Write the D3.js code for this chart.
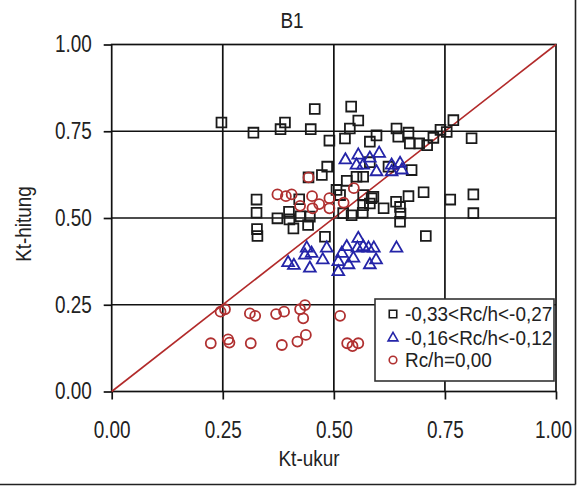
<!DOCTYPE html>
<html><head><meta charset="utf-8">
<script src="https://cdn.jsdelivr.net/npm/d3@7"></script>
<style>
html,body{margin:0;padding:0;background:#fff;}
text{font-family:"Liberation Sans Narrow","Arial Narrow","Liberation Sans",Arial,sans-serif;fill:#222;}
</style></head>
<body><svg id="c" width="581" height="486"></svg>
<script>
const title = "B1";
const xLabel = "Kt-ukur";
const yLabel = "Kt-hitung";
const tickValues = [0, 0.25, 0.5, 0.75, 1.0];
const tickLabels = ["0.00", "0.25", "0.50", "0.75", "1.00"];
const seriesNames = ["-0,33<Rc/h<-0,27", "-0,16<Rc/h<-0,12", "Rc/h=0,00"];

// series 1: squares (-0,33<Rc/h<-0,27)
const squares = [
 [0.247,0.775],[0.319,0.746],[0.380,0.756],[0.390,0.775],[0.448,0.756],[0.457,0.814],
 [0.490,0.723],[0.525,0.729],[0.536,0.758],[0.539,0.821],[0.555,0.781],[0.581,0.720],
 [0.596,0.738],[0.641,0.758],[0.645,0.734],[0.668,0.746],[0.671,0.715],[0.692,0.715],
 [0.710,0.710],[0.724,0.731],[0.740,0.754],[0.754,0.748],[0.769,0.782],[0.810,0.730],
 [0.485,0.648],[0.473,0.624],[0.443,0.617],[0.551,0.619],[0.566,0.619],[0.581,0.661],
 [0.623,0.648],[0.675,0.638],
 [0.326,0.553],[0.326,0.515],[0.327,0.468],[0.328,0.448],[0.373,0.499],[0.399,0.518],
 [0.400,0.496],[0.409,0.470],[0.422,0.554],[0.425,0.505],[0.446,0.504],[0.442,0.480],
 [0.480,0.446],[0.506,0.581],[0.529,0.607],[0.514,0.566],[0.521,0.514],[0.540,0.508],
 [0.566,0.566],[0.565,0.515],[0.566,0.537],[0.585,0.557],[0.581,0.542],[0.589,0.561],
 [0.612,0.528],[0.640,0.547],[0.649,0.532],[0.650,0.513],[0.649,0.489],[0.668,0.563],
 [0.702,0.574],[0.707,0.448],[0.762,0.553],[0.814,0.568],[0.814,0.514]
];
// series 2: triangles (-0,16<Rc/h<-0,12)
const triangles = [
 [0.526,0.667],[0.555,0.681],[0.551,0.652],[0.566,0.652],[0.581,0.672],[0.602,0.686],
 [0.596,0.633],[0.630,0.652],[0.630,0.633],[0.649,0.657],[0.653,0.638],
 [0.397,0.371],[0.410,0.363],[0.439,0.413],[0.435,0.393],[0.450,0.398],[0.446,0.355],
 [0.475,0.379],[0.484,0.413],[0.510,0.374],[0.510,0.345],[0.518,0.398],[0.529,0.417],
 [0.533,0.365],[0.544,0.384],[0.555,0.441],[0.553,0.413],[0.566,0.417],[0.578,0.413],
 [0.590,0.413],[0.581,0.365],[0.595,0.379],[0.641,0.413]
];
// series 3: circles (Rc/h=0,00)
const circles = [
 [0.443,0.617],[0.373,0.568],[0.392,0.563],[0.405,0.568],[0.424,0.535],[0.451,0.563],
 [0.452,0.528],[0.467,0.540],[0.490,0.557],[0.490,0.528],[0.522,0.544],[0.545,0.586],
 [0.245,0.230],[0.255,0.237],[0.311,0.225],[0.323,0.218],[0.370,0.223],[0.388,0.230],
 [0.424,0.237],[0.435,0.249],[0.431,0.211],[0.514,0.218],
 [0.223,0.139],[0.262,0.150],[0.265,0.141],[0.313,0.139],[0.383,0.134],[0.418,0.144],
 [0.437,0.163],[0.530,0.139],[0.542,0.131],[0.555,0.139]
];
const diagonal = [[0,0],[1,1]];

const svg = d3.select("#c");
const x = d3.scaleLinear().domain([0,1]).range([111.7,556]);
const y = d3.scaleLinear().domain([0,1]).range([391.5,44.5]);
const FS = 23;

// figure frame (right and bottom edges)
svg.append("line").attr("x1",575.5).attr("x2",575.5).attr("y1",0).attr("y2",484.5).attr("stroke","#222").attr("stroke-width",1.6);
svg.append("line").attr("x1",0).attr("x2",575.5).attr("y1",484.5).attr("y2",484.5).attr("stroke","#222").attr("stroke-width",1.6);

// grid lines
const g = svg.append("g");
g.selectAll("line.gx").data(tickValues.slice(1,4)).join("line")
 .attr("x1",d=>x(d)).attr("x2",d=>x(d)).attr("y1",y(0)).attr("y2",y(1))
 .attr("stroke","#111").attr("stroke-width",1.7);
g.selectAll("line.gy").data(tickValues.slice(1,4)).join("line")
 .attr("y1",d=>y(d)).attr("y2",d=>y(d)).attr("x1",x(0)).attr("x2",x(1))
 .attr("stroke","#111").attr("stroke-width",1.7);

// axes
const xAxis = d3.axisBottom(x).tickValues(tickValues).tickFormat((d,i)=>tickLabels[i]).tickSize(8).tickPadding(22);
const yAxis = d3.axisLeft(y).tickValues(tickValues).tickFormat((d,i)=>tickLabels[i]).tickSize(8).tickPadding(12);
const gx = svg.append("g").attr("transform",`translate(0,${y(0)})`).call(xAxis);
const gy = svg.append("g").attr("transform",`translate(${x(0)},0)`).call(yAxis);
[gx,gy].forEach(a=>{
  a.select(".domain").remove();
  a.attr("font-family",null).attr("font-size",null);
  a.selectAll(".tick line").attr("stroke","#111").attr("stroke-width",1.7);
  a.selectAll(".tick text").attr("font-size",FS).attr("fill","#222");
});
// keep the last x label inside the figure frame
gx.selectAll(".tick text").filter(d=>d===1).attr("dx",-3);

// plot border
svg.append("rect").attr("x",x(0)).attr("y",y(1)).attr("width",x(1)-x(0)).attr("height",y(0)-y(1))
 .attr("fill","none").attr("stroke","#111").attr("stroke-width",1.7);

// diagonal
svg.append("path").datum(diagonal)
 .attr("d",d3.line().x(d=>x(d[0])).y(d=>y(d[1])))
 .attr("stroke","#b22a2a").attr("stroke-width",1.6).attr("fill","none");

// markers
const sq = d3.symbol().type(d3.symbolSquare).size(96);
const tr = d3.symbol().type(d3.symbolTriangle).size(60);
svg.append("g").selectAll("path").data(squares).join("path")
 .attr("d",sq).attr("transform",d=>`translate(${x(d[0])},${y(d[1])})`)
 .attr("fill","none").attr("stroke","#1a1a1a").attr("stroke-width",1.8);
svg.append("g").selectAll("path").data(triangles).join("path")
 .attr("d",tr).attr("transform",d=>`translate(${x(d[0])},${y(d[1])})`)
 .attr("fill","none").attr("stroke","#2424a8").attr("stroke-width",1.8);
svg.append("g").selectAll("circle").data(circles).join("circle")
 .attr("cx",d=>x(d[0])).attr("cy",d=>y(d[1])).attr("r",5)
 .attr("fill","none").attr("stroke","#b03030").attr("stroke-width",1.8);

// legend
const lg = svg.append("g");
lg.append("rect").attr("x",375).attr("y",299).attr("width",179).attr("height",82)
 .attr("fill","#fff").attr("stroke","#333").attr("stroke-width",1.6);
const rows = [314, 338, 360];
lg.append("path").attr("d",d3.symbol().type(d3.symbolSquare).size(56)).attr("transform",`translate(393,${rows[0]})`)
 .attr("fill","none").attr("stroke","#1a1a1a").attr("stroke-width",1.6);
lg.append("path").attr("d",d3.symbol().type(d3.symbolTriangle).size(42)).attr("transform",`translate(393,${rows[1]})`)
 .attr("fill","none").attr("stroke","#2424a8").attr("stroke-width",1.6);
lg.append("circle").attr("cx",393).attr("cy",rows[2]).attr("r",3.8)
 .attr("fill","none").attr("stroke","#b03030").attr("stroke-width",1.6);
lg.selectAll("text").data(seriesNames).join("text")
 .attr("x",405).attr("y",(d,i)=>rows[i]).attr("dy","0.35em").attr("font-size",21).text(d=>d);

// titles
svg.append("text").attr("x",292).attr("y",20).attr("dy","0.35em").attr("text-anchor","middle").attr("font-size",22).text(title);
svg.append("text").attr("x",309).attr("y",458).attr("dy","0.35em").attr("text-anchor","middle").attr("font-size",22).text(xLabel);
svg.append("text").attr("transform","translate(23,224) rotate(-90)").attr("dy","0.35em").attr("text-anchor","middle").attr("font-size",22).text(yLabel);

// narrow the text horizontally (the original uses a condensed face)
svg.selectAll("text").each(function(){
  const w = this.getComputedTextLength();
  const fs = +d3.select(this).attr("font-size");
  const f = 0.86 * 22 / fs;
  d3.select(this).attr("textLength", w*f).attr("lengthAdjust","spacingAndGlyphs");
});
</script></body></html>
